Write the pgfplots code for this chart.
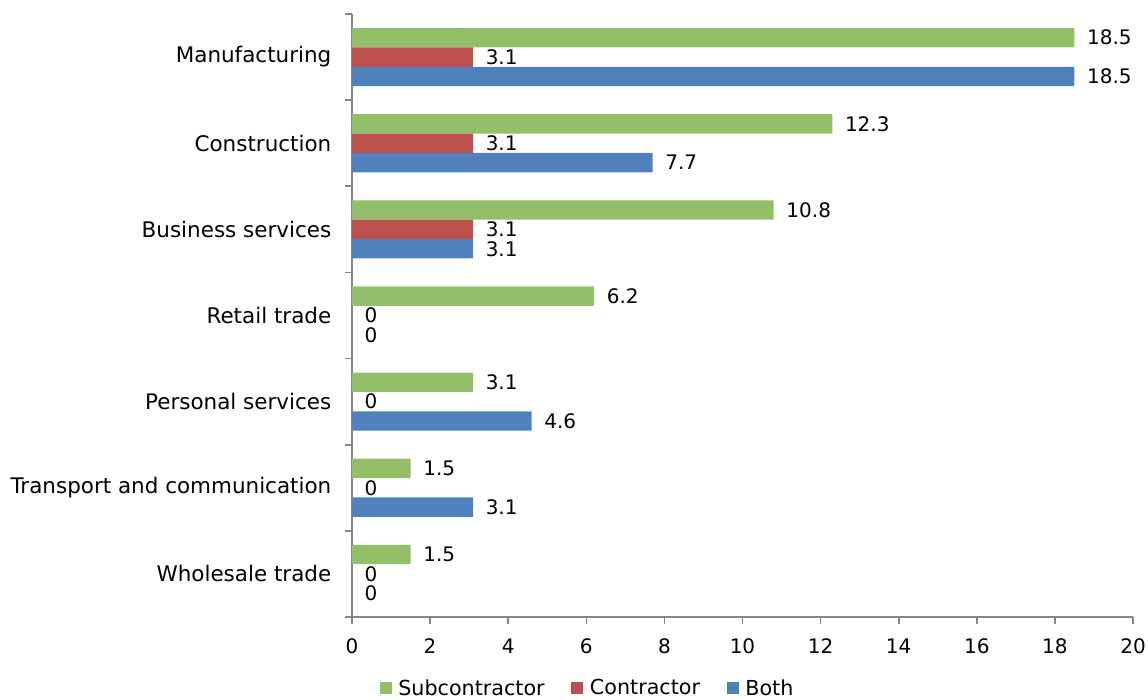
\documentclass[border=0pt]{standalone}
\usepackage{pgfplots}
\pgfplotsset{compat=1.18}
\usepackage{fontspec}
\setmainfont{DejaVu Sans}

\definecolor{subc}{HTML}{93BF69}
\definecolor{contr}{HTML}{C0504D}
\definecolor{both}{HTML}{4F81BD}
\definecolor{axgray}{HTML}{868686}

\begin{document}
\begin{tikzpicture}[x=0.75pt,y=0.75pt]
\begin{axis}[
  name=ax, at={(0,0)}, anchor=south west,
  scale only axis, width=585.75pt, height=452.25pt,
  xbar, bar width=0.225,
  xmin=0, xmax=20, ymin=-0.5, ymax=6.5,
  axis x line=bottom, axis y line=left,
  axis line style={axgray, line width=1.2pt, -},
  xtick={0,2,...,20},
  ytick={-0.5,0.5,...,6.5},
  yticklabels={},
  extra y ticks={0,...,6},
  extra y tick labels={Wholesale trade, Transport and communication, Personal services, Retail trade, Business services, Construction, Manufacturing},
  extra y tick style={major tick length=0pt,
    yticklabel style={xshift=-12pt, font=\fontsize{16.1pt}{19pt}\selectfont}},
  major tick length=5pt,
  tick align=outside,
  tick style={axgray, line width=1.2pt},
  tick label style={font=\fontsize{15pt}{18pt}\selectfont, black},
  xticklabel style={yshift=-8pt},
  /pgf/number format/assume math mode=true,
  /pgf/number format/fixed, /pgf/number format/precision=1,
  nodes near coords,
  every node near coord/.append style={font=\fontsize{15pt}{18pt}\selectfont, black, anchor=west, xshift=6pt},
  legend style={draw=none, fill=none, font=\fontsize{15.5pt}{18pt}\selectfont,
    at={(0.302,-0.118)}, anchor=center, legend columns=3,
    /tikz/every odd column/.append style={column sep=3pt},
    /tikz/every even column/.append style={column sep=18pt}},
  legend image code/.code={\fill[#1] (0pt,-4.5pt) rectangle (9pt,4.5pt);},
]
\addplot[fill=subc, draw=none, bar shift=0.225] coordinates {
  (1.5,0) (1.5,1) (3.1,2) (6.2,3) (10.8,4) (12.3,5) (18.5,6)};
\addplot[fill=contr, draw=none, bar shift=0] coordinates {
  (0,0) (0,1) (0,2) (0,3) (3.1,4) (3.1,5) (3.1,6)};
\addplot[fill=both, draw=none, bar shift=-0.225] coordinates {
  (0,0) (3.1,1) (4.6,2) (0,3) (3.1,4) (7.7,5) (18.5,6)};
\legend{Subcontractor, Contractor, Both}
\end{axis}
\pgfresetboundingbox
\path[use as bounding box] (-352,-82) rectangle (796,617);
\end{tikzpicture}
\end{document}
